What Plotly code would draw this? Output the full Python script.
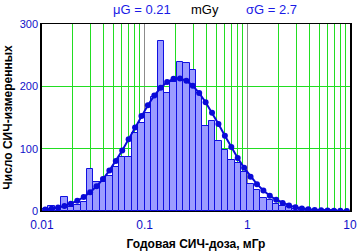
import plotly.graph_objects as go
import math

# ---- data ----
bins_per_decade = 16
log_start = -2.0  # histogram starts at 0.01 mGy
counts = [4, 8, 4, 23, 6, 10, 14, 67, 46, 46, 56, 70, 87, 87, 125, 141,
          157, 183, 273, 190, 207, 239, 237, 227, 190, 136, 145, 113, 98, 82, 77, 62,
          44, 34, 21, 17, 12, 8, 6, 4, 3, 2, 2, 1, 1, 1, 0, 0]
fit = [2.4, 3.7, 5.5, 8.1, 11.6, 16.3, 22.4, 30.1, 39.7, 51.2, 64.8, 80.2, 97.1, 115.3, 133.9, 152.4,
       169.8, 185.2, 197.9, 207.0, 212.1, 212.7, 209.0, 201.0, 189.3, 174.6, 157.7, 139.5, 120.8, 102.5, 85.1, 69.2,
       55.1, 43.0, 32.8, 24.5, 18.0, 12.9, 9.0, 6.2, 4.2, 2.8, 1.8, 1.1, 0.7, 0.4, 0.25, 0.15]
x_tickvals = [-2, -1, 0, 1]
x_ticktext = ["0.01", "0.1", "1", "10"]
y_tickvals = [0, 100, 200, 300]
minor_mult = [2, 3, 4, 5, 6, 7, 8, 9]

width = 1.0 / bins_per_decade
centers = [log_start + (i + 0.5) * width for i in range(len(counts))]
minor_vals = [d + math.log10(m) for d in (-2, -1, 0) for m in minor_mult]

BLUE = "#1010c8"
fig = go.Figure()
fig.add_trace(go.Bar(x=centers, y=counts, width=width,
                     marker=dict(color="#9c9cff", line=dict(color="#1010e0", width=1)),
                     showlegend=False))
fig.add_trace(go.Scatter(x=centers, y=fit, mode="lines+markers",
                         line=dict(color="#0a0ad8", width=2),
                         marker=dict(color="#0a0ad8", size=6),
                         showlegend=False))

fig.update_layout(
    width=359, height=251,
    margin=dict(l=42, r=9, t=24, b=40, autoexpand=False),
    paper_bgcolor="white", plot_bgcolor="white",
    font=dict(family="Arial, Liberation Sans, sans-serif", size=11, color="black"),
    bargap=0,
)
fig.update_xaxes(
    automargin=False,
    range=[-2, 1], tickvals=x_tickvals, ticktext=x_ticktext,
    tickfont=dict(color=BLUE, size=12),
    tickprefix="<b>", ticksuffix="</b>",
    ticklabelstandoff=3,
    showgrid=True, gridcolor="#8c8c8c", gridwidth=1,
    minor=dict(tickvals=minor_vals, showgrid=True, gridcolor="#22dd22", gridwidth=1),
    showline=True, linecolor="black", linewidth=1, mirror=True, zeroline=False,
    title=dict(text="<b>Годовая СИЧ-доза, мГр</b>", font=dict(size=12), standoff=8),
)
fig.update_yaxes(
    automargin=False,
    range=[0, 300], tickvals=y_tickvals,
    tickfont=dict(color=BLUE, size=11),
    tickprefix="<b>", ticksuffix="</b>",
    showgrid=True, gridcolor="#22dd22", gridwidth=1,
    showline=True, linecolor="black", linewidth=1.5, mirror=True, zeroline=False,
    title=dict(text="<b>Число СИЧ-измеренных</b>", font=dict(size=12), standoff=4),
)

ann_y = 1.075
fig.add_annotation(text="μG = 0.21", xref="paper", yref="paper", x=0.326, y=ann_y,
                   xanchor="center", yanchor="middle",
                   showarrow=False, font=dict(size=13, color="#1a1ae6"))
fig.add_annotation(text="mGy", xref="paper", yref="paper", x=0.529, y=ann_y,
                   xanchor="center", yanchor="middle",
                   showarrow=False, font=dict(size=13, color="black"))
fig.add_annotation(text="σG = 2.7", xref="paper", yref="paper", x=0.744, y=ann_y,
                   xanchor="center", yanchor="middle",
                   showarrow=False, font=dict(size=13, color="#1a1ae6"))

fig.write_html("out.html", config={"displayModeBar": False},
               post_script="document.body.style.margin='0px';")
